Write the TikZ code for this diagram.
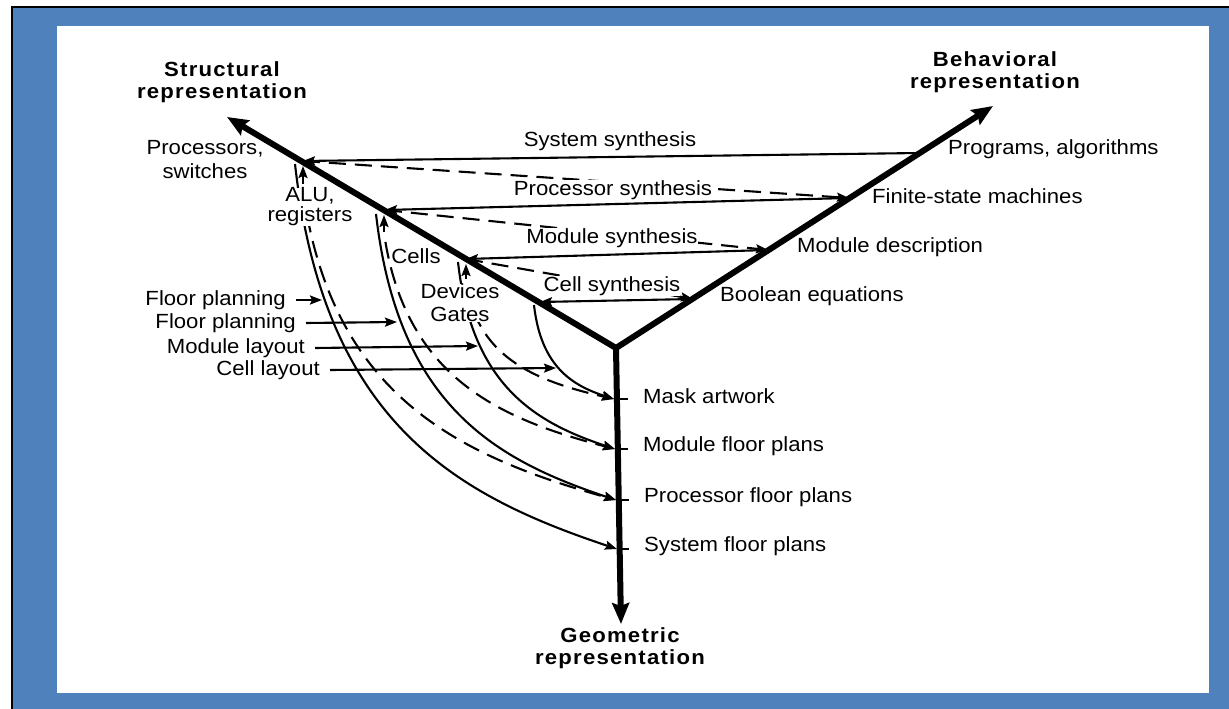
\documentclass[tikz,border=0pt]{standalone}
\usepackage{fontspec}
\setmainfont{Liberation Sans}[FakeStretch=1.08]
\usetikzlibrary{arrows.meta}
\definecolor{frameblue}{HTML}{4F81BD}

\begin{document}
\begin{tikzpicture}[x=1pt,y=-1pt,
  txt/.style={font=\fontsize{20.5}{22}\selectfont, inner sep=0pt, align=center},
  masked/.style={txt, fill=white},
  title/.style={font=\fontsize{20.5}{22}\selectfont\bfseries\addfontfeatures{LetterSpace=6}, inner sep=0pt, align=center},
  axisline/.style={line width=6pt, line cap=round, -{Stealth[length=21pt,width=17pt,inset=3pt]}},
  thinline/.style={line width=2.1pt},
  arrowline/.style={thinline, -{Stealth[length=12pt,width=9pt,inset=2pt]}},
  dashedarrow/.style={arrowline, dash pattern=on 17pt off 9pt},
]
\useasboundingbox (0,0) rectangle (1229,709);

% frame
\fill[white] (0,0) rectangle (1229,709);
\fill[frameblue] (12,7) rectangle (1229,709);
\draw[line width=2.2pt] (12,709) -- (12,7) -- (1229,7);
\fill[white] (57,26) rectangle (1209,693);

% the three axes
\coordinate (O) at (616,348);
\coordinate (Stip) at (227,117);
\coordinate (Btip) at (993,106);
\coordinate (Gtip) at (621,624);

% levels on the structural axis
\coordinate (P1) at (303,161);
\coordinate (P2) at (385,210);
\coordinate (P3) at (466,259);
\coordinate (P4) at (540,302);
% levels on the behavioral axis
\coordinate (Q1) at (920,153);
\coordinate (Q2) at (849,198);
\coordinate (Q3) at (768,250);
\coordinate (Q4) at (693,299);
% arrival points on the geometric axis
\coordinate (g1) at (614,399);
\coordinate (g2) at (615,449);
\coordinate (g3) at (616,500);
\coordinate (g4) at (617,549);
% tick ends
\coordinate (k1) at (628,399);
\coordinate (k2) at (628,449);
\coordinate (k3) at (629,500);
\coordinate (k4) at (629,549);

% arc starts
\coordinate (s1) at (295,164);
\coordinate (s2) at (376,214);
\coordinate (s3) at (458,262);
\coordinate (s4) at (534,305);
\coordinate (d1) at (303,190);
\coordinate (d2) at (384,233);
\coordinate (d3) at (467,286);

% layout arcs (solid) and refinement arcs (dashed)
\draw[arrowline] (s1) .. controls (324,422) and (455,495) .. (g4);
\draw[arrowline] (s2) .. controls (398,406) and (496,460) .. (g3);
\draw[arrowline] (s3) .. controls (472,387) and (537,423) .. (g2);
\draw[arrowline] (s4) .. controls (541,368) and (574,386) .. (g1);
\draw[dashedarrow] (d1) .. controls (331,396) and (459,456) .. (g3);
\draw[dashedarrow, dash phase=17pt] (d2) .. controls (405,378) and (500,419) .. (g2);
\draw[dashedarrow] (d3) .. controls (479,360) and (540,382) .. (g1);

% synthesis refinements (dashed)
\draw[dashedarrow] (P1) -- (Q2);
\draw[dashedarrow] (P2) -- (Q3);
\draw[dashedarrow] (P3) -- (Q4);

% labels that sit over lines
\node[masked, font=\fontsize{20.5}{20}\selectfont] (lALU) at (310,207) {ALU,\\registers};
\node[masked, font=\fontsize{20.5}{23}\selectfont] (lDev) at (460,303) {Devices\\Gates};
\node[masked] (lPsyn) at (613,190) {Processor synthesis};
\node[masked] (lMsyn) at (612,238) {Module synthesis};
\node[masked] (lCsyn) at (612,286) {Cell synthesis};

% axes
\draw[axisline] (O) -- (Stip);
\draw[axisline] (O) -- (Btip);
\draw[axisline] (O) -- (Gtip);

% synthesis steps (solid)
\draw[arrowline] (Q1) -- (P1);
\draw[arrowline] (Q2) -- (P2);
\draw[arrowline] (Q3) -- (P3);
\draw[arrowline] (Q4) -- (P4);

% hierarchy arrows on the structural axis
\coordinate (u1a) at (303,184);
\coordinate (u1b) at (303,166);
\coordinate (u2a) at (384,232);
\coordinate (u2b) at (384,215);
\coordinate (u3a) at (466,279);
\coordinate (u3b) at (466,264);
\draw[arrowline] (u1a) -- (u1b);
\draw[arrowline] (u2a) -- (u2b);
\draw[arrowline] (u3a) -- (u3b);

% ticks on the geometric axis
\draw[thinline] (g1) -- (k1);
\draw[thinline] (g2) -- (k2);
\draw[thinline] (g3) -- (k3);
\draw[thinline] (g4) -- (k4);

% axis titles
\node[title] (tStruct) at (222,82) {Structural\\representation};
\node[title] (tBehav) at (995,72) {Behavioral\\representation};
\node[title] (tGeom) at (620,648) {Geometric\\representation};

% structural levels
\node[txt, font=\fontsize{20.5}{24}\selectfont] (lProc) at (205,160) {Processors,\\switches};
\node[txt] (lCells) at (416,256) {Cells};

% synthesis step
\node[txt] (lSys) at (610,141) {System synthesis};

% behavioral levels
\node[txt, anchor=west] (lProg) at (948,149) {Programs, algorithms};
\node[txt, anchor=west] (lFSM) at (872,196) {Finite-state machines};
\node[txt, anchor=west] (lMdesc) at (797,247) {Module description};
\node[txt, anchor=west] (lBool) at (720,296) {Boolean equations};

% geometric levels
\node[txt, anchor=west] (lMask) at (643,396) {Mask artwork};
\node[txt, anchor=west] (lMfp) at (643,446) {Module floor plans};
\node[txt, anchor=west] (lPfp) at (644,497) {Processor floor plans};
\node[txt, anchor=west] (lSfp) at (644,546) {System floor plans};

% layout step labels
\node[txt, anchor=east] (fp1) at (286,300) {Floor planning};
\node[txt, anchor=east] (fp2) at (296,323) {Floor planning};
\node[txt, anchor=east] (ml) at (305,348) {Module layout};
\node[txt, anchor=east] (cl) at (320,370) {Cell layout};
\coordinate (a1) at (322,300);
\coordinate (a2) at (397,322);
\coordinate (a3) at (478,346);
\coordinate (a4) at (556,368);
\draw[arrowline] ([xshift=10pt]fp1.east) -- (a1);
\draw[arrowline] ([xshift=10pt]fp2.east) -- (a2);
\draw[arrowline] ([xshift=10pt]ml.east) -- (a3);
\draw[arrowline] ([xshift=10pt]cl.east) -- (a4);
\end{tikzpicture}
\end{document}
